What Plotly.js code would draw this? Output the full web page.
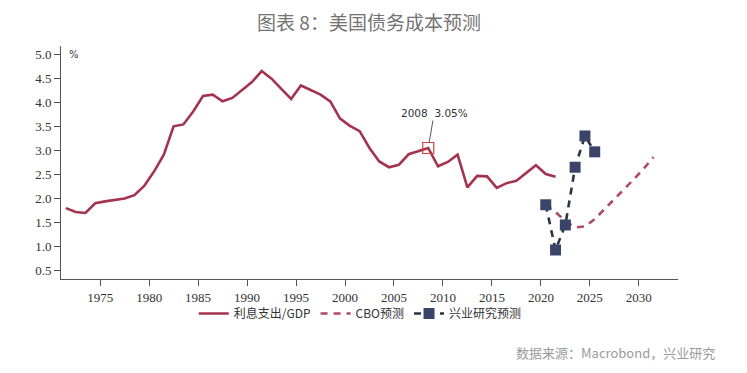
<!DOCTYPE html>
<html>
<head>
<meta charset="utf-8">
<script src="https://cdn.plot.ly/plotly-3.0.1.min.js"></script>
<style>html,body{margin:0;padding:0;background:#fff;}#chart{width:747px;height:373px;}</style>
</head>
<body>
<div id="chart"></div>
<script>
// Interest outlays / GDP (%), 1971-2021
const histYears = [1971,1972,1973,1974,1975,1976,1977,1978,1979,1980,1981,1982,1983,1984,1985,1986,1987,1988,1989,1990,1991,1992,1993,1994,1995,1996,1997,1998,1999,2000,2001,2002,2003,2004,2005,2006,2007,2008,2009,2010,2011,2012,2013,2014,2015,2016,2017,2018,2019,2020,2021];
const histValues = [1.80,1.72,1.70,1.90,1.94,1.97,2.00,2.07,2.26,2.56,2.91,3.50,3.54,3.81,4.13,4.16,4.02,4.09,4.25,4.42,4.65,4.49,4.28,4.07,4.35,4.26,4.16,4.02,3.66,3.51,3.40,3.05,2.77,2.65,2.70,2.92,2.98,3.05,2.67,2.76,2.91,2.23,2.47,2.46,2.22,2.32,2.37,2.53,2.69,2.51,2.45];
// CBO projection
const cboYears = [2020,2021,2022,2023,2024,2025,2026,2027,2028,2029,2030,2031];
const cboValues = [1.87,1.72,1.53,1.40,1.42,1.57,1.78,1.98,2.19,2.40,2.62,2.86];
// Industrial Research projection
const cibYears = [2020,2021,2022,2023,2024,2025];
const cibValues = [1.87,0.93,1.45,2.65,3.30,2.97];
// Highlight
const hlYear = 2008;
const hlValue = 3.05;

const toDate = y => y + '-07-01';
const serif = 'Liberation Serif';

const traces = [
  {x: histYears.map(toDate), y: histValues, type: 'scatter', mode: 'lines', name: '利息支出/GDP',
   line: {color: '#a3334f', width: 2.6}},
  {x: cboYears.map(toDate), y: cboValues, type: 'scatter', mode: 'lines', name: 'CBO预测',
   line: {color: '#b04a66', width: 2.6, dash: '7px,6px'}},
  {x: cibYears.map(toDate), y: cibValues, type: 'scatter', mode: 'lines+markers', name: '兴业研究预测',
   line: {color: '#2c3342', width: 2.6, dash: '7px,6px'},
   marker: {symbol: 'square', size: 11, color: '#3a4468'}},
  {x: [toDate(hlYear)], y: [hlValue], type: 'scatter', mode: 'markers', showlegend: false, hoverinfo: 'skip',
   marker: {symbol: 'square-open', size: 11, color: '#d0453f', line: {width: 1.2}}}
];

const layout = {
  width: 747, height: 373,
  font: {family: serif, size: 13, color: '#333'},
  paper_bgcolor: '#ffffff', plot_bgcolor: '#ffffff',
  margin: {l: 61, r: 69, t: 46, b: 94},
  title: {text: '图表 8：美国债务成本预测', x: 0.494, xanchor: 'center', y: 0.938, yanchor: 'middle',
          font: {family: 'Noto Sans CJK SC', size: 19, color: '#737373'}},
  xaxis: {type: 'date', range: ['1971-01-01', '2034-01-01'], tick0: '1975-01-01', dtick: 'M60', tickformat: '%Y',
          showgrid: false, zeroline: false, showline: true, linecolor: '#555', linewidth: 1,
          ticks: 'outside', ticklen: 6, tickcolor: '#555',
          tickfont: {family: serif, size: 13, color: '#333'}},
  yaxis: {range: [0.327, 5.17], tickvals: [0.5,1.0,1.5,2.0,2.5,3.0,3.5,4.0,4.5,5.0], tickformat: '.1f',
          showgrid: false, zeroline: false, showline: true, linecolor: '#555', linewidth: 1,
          ticks: 'outside', ticklen: 6, tickcolor: '#555',
          tickfont: {family: serif, size: 13, color: '#333'}},
  showlegend: true,
  legend: {orientation: 'h', x: 0.485, xanchor: 'center', y: -0.148, yanchor: 'middle',
           font: {family: 'Noto Sans CJK SC', size: 12, color: '#333'}, itemwidth: 30, bgcolor: 'rgba(0,0,0,0)'},
  annotations: [
    {x: toDate(hlYear), y: hlValue, xref: 'x', yref: 'y', text: '2008  3.05%', showarrow: true, arrowhead: 0,
     arrowwidth: 1, arrowcolor: '#555', ax: 6, ay: -35, standoff: 6,
     font: {family: 'DejaVu Sans', size: 10.5, color: '#333'}},
    {x: 0.01, y: 5.0, xref: 'paper', yref: 'y', text: '%', showarrow: false, xanchor: 'left', yanchor: 'middle',
     font: {family: 'DejaVu Sans', size: 10, color: '#333'}},
    {x: 1.063, y: -0.314, xref: 'paper', yref: 'paper', text: '数据来源：Macrobond，兴业研究', showarrow: false,
     xanchor: 'right', yanchor: 'middle', font: {family: 'Noto Sans CJK SC', size: 13, color: '#9a9a9a'}}
  ]
};

Plotly.newPlot('chart', traces, layout, {displayModeBar: false, staticPlot: true});
</script>
</body>
</html>
